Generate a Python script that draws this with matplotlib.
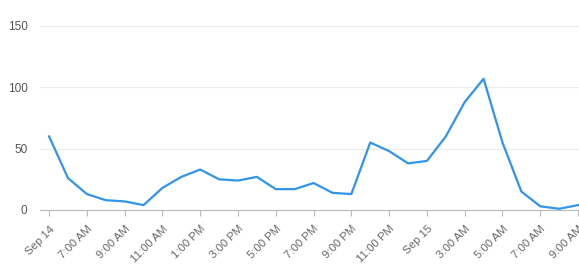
import matplotlib
matplotlib.use("Agg")
import matplotlib.pyplot as plt

plt.rcParams["font.family"] = ["Liberation Sans", "DejaVu Sans"]

# hourly values, Sep 14 5:00 AM -> Sep 15 9:00 AM
hours = list(range(29))
values = [60, 26, 13, 8, 7, 4, 18, 27, 33, 25, 24, 27, 17, 17, 22, 14, 13,
          55, 48, 38, 40, 60, 88, 107, 55, 15, 3, 1, 4]

tick_pos = list(range(0, 29, 2))
tick_labels = ["Sep 14", "7:00 AM", "9:00 AM", "11:00 AM", "1:00 PM", "3:00 PM",
               "5:00 PM", "7:00 PM", "9:00 PM", "11:00 PM", "Sep 15", "3:00 AM",
               "5:00 AM", "7:00 AM", "9:00 AM"]
y_ticks = [0, 50, 100, 150]

W, H = 579, 267
fig = plt.figure(figsize=(W / 100, H / 100), dpi=100)
# axes placed in pixel coordinates
left, right, bottom, top = 40, 579, H - 210, H - 26
ax = fig.add_axes([left / W, bottom / H, (right - left) / W, (top - bottom) / H])

ax.plot(hours, values, color="#3095ea", lw=1.6, clip_on=False, zorder=3)

ax.set_xlim(-0.48, 28.05)
ax.set_ylim(0, 150)

ax.set_yticks(y_ticks)
ax.set_yticklabels([str(v) for v in y_ticks], fontsize=8.5, color="#555555")
ax.tick_params(axis="y", length=0, pad=9)
ax.grid(axis="y", color="#ececec", lw=0.8)

ax.set_xticks(tick_pos)
ax.set_xticklabels(tick_labels, fontsize=8.2, color="#666666", rotation=45,
                   ha="right", va="top", rotation_mode="anchor")
ax.tick_params(axis="x", length=4, color="#bbbbbb", pad=6)

for s in ["top", "right", "left"]:
    ax.spines[s].set_visible(False)
ax.spines["bottom"].set_color("#bbbbbb")
ax.set_axisbelow(True)

fig.savefig("out.png", dpi=100)
